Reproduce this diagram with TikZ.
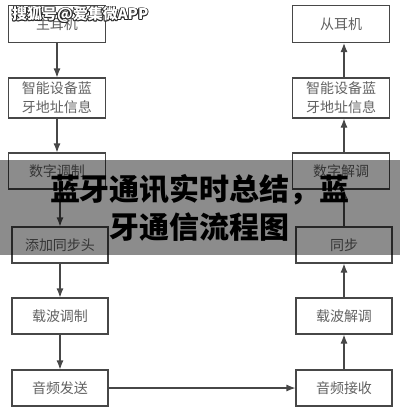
\documentclass[tikz,border=0pt]{standalone}
\usepackage{fontspec}
\newfontfamily\cjk{Noto Sans CJK SC}
\usetikzlibrary{arrows.meta}
\begin{document}
\begin{tikzpicture}[x=1pt,y=-1pt,
  box/.style={draw=black!72, line width=1.1pt, minimum width=97pt, minimum height=37pt,
    inner sep=1pt, align=center, font=\cjk\fontsize{14}{19}\selectfont, text=black!62},
  arr/.style={-{Latex[length=9pt,width=7pt]}, line width=1.1pt, draw=black!72},
  wmtext/.style={font=\cjk\bfseries\fontsize{15}{15}\selectfont, inner sep=0pt, anchor=west}]
\useasboundingbox (0,0) rectangle (400,416);
% left column
\node[box] (m1) at (57,24) {主耳机};
\node[box, minimum height=40pt] (m2) at (57,98) {智能设备蓝\\牙地址信息};
\node[box, minimum height=36pt] (m3) at (57,171) {数字调制};
\node[box, minimum height=36pt, minimum width=96pt] (m4) at (60,245) {添加同步头};
\node[box, minimum height=36pt, minimum width=96pt] (m5) at (60,316) {载波调制};
\node[box, minimum height=36pt, minimum width=96pt] (m6) at (60,388) {音频发送};
% right column
\node[box] (s1) at (341,24) {从耳机};
\node[box, minimum height=40pt] (s2) at (341,98) {智能设备蓝\\牙地址信息};
\node[box, minimum height=36pt] (s3) at (341,171) {数字解调};
\node[box, minimum height=36pt, minimum width=96pt] (s4) at (344,245) {同步};
\node[box, minimum height=36pt, minimum width=96pt] (s5) at (344,316) {载波解调};
\node[box, minimum height=36pt, minimum width=96pt] (s6) at (344,388) {音频接收};
% left arrows (down)
\draw[arr] (m1.south) -- (m2.north);
\draw[arr] (m2.south) -- (m3.north);
\draw[arr] (m4.north |- m3.south) -- (m4.north);
\draw[arr] (m4.south) -- (m5.north);
\draw[arr] (m5.south) -- (m6.north);
% cross link
\draw[arr] (m6.east) -- (s6.west);
% right arrows (up)
\draw[arr] (s6.north) -- (s5.south);
\draw[arr] (s5.north) -- (s4.south);
\draw[arr] (s4.north) -- (s4.north |- s3.south);
\draw[arr] (s4.north |- s3.north) -- (s4.north |- s2.south);
\draw[arr] (s4.north |- s2.north) -- (s4.north |- s1.south);
% banner
\node[fill=black, fill opacity=0.45, text opacity=1, minimum width=400pt, minimum height=95pt,
  inner sep=0pt, align=center, text=black,
  font=\cjk\bfseries\fontsize{30}{38}\selectfont] (banner) at (200,207.5) {蓝牙通讯实时总结，蓝\\牙通信流程图};
% watermark: white text with dark outline
\foreach \dx/\dy [count=\i] in {-0.9/0,0.9/0,0/-0.9,0/0.9,-0.7/-0.7,0.7/0.7,-0.7/0.7,0.7/-0.7}{
  \node[wmtext, text=black!85] (wmo\i) at (12+\dx,15+\dy) {搜狐号@爱集微APP};
}
\node[wmtext, text=white] (wm) at (12,15) {搜狐号@爱集微APP};
\end{tikzpicture}
\end{document}
